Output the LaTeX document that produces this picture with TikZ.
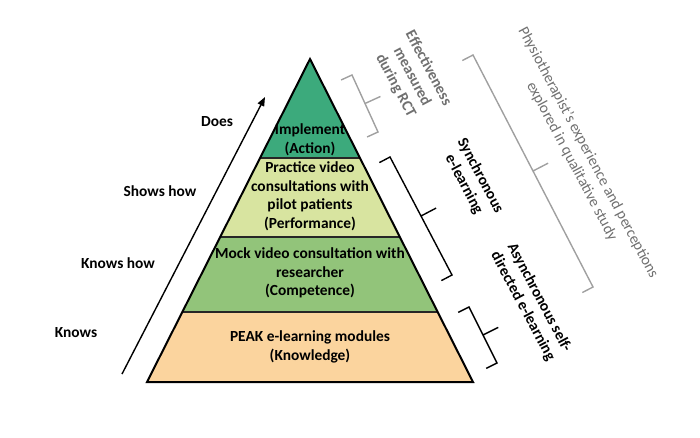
\documentclass[tikz,border=0pt]{standalone}
\usepackage{fontspec}
\setmainfont{Carlito}
\usetikzlibrary{calc,arrows.meta}
\definecolor{actgreen}{HTML}{3CAA7C}
\definecolor{perfgreen}{HTML}{D8E4A0}
\definecolor{compgreen}{HTML}{92C47A}
\definecolor{knowpeach}{HTML}{FBD49E}
\definecolor{notegray}{HTML}{707070}
\definecolor{bracegray}{HTML}{A0A0A0}
\begin{document}
\begin{tikzpicture}[x=1pt,y=-1pt,
  font=\fontsize{15.4}{18.5}\selectfont,
  layer/.style={draw=black!85,line width=1.2pt},
  layertext/.style={align=center,font=\fontsize{15.4}{18.5}\selectfont\bfseries},
  stage/.style={anchor=center,font=\fontsize{15.4}{18.5}\selectfont\bfseries},
  graybrace/.style={draw=bracegray,line width=1.4pt},
  blackbrace/.style={draw=black,line width=1.4pt},
  note/.style={align=center,rotate=-62,text=notegray},
  boldnote/.style={align=center,rotate=-62,font=\fontsize{15.4}{18.5}\selectfont\bfseries}]

\useasboundingbox (0,0) rectangle (700,437);

%corners of the pyramid
  \coordinate (apex) at (310,59);
  \coordinate (bl) at (147,382);
  \coordinate (br) at (473,382);
  \coordinate (l1) at (260,158);   \coordinate (r1) at (360,158);
  \coordinate (l2) at (220.2,237); \coordinate (r2) at (399.8,237);
  \coordinate (l3) at (182.3,312); \coordinate (r3) at (437.7,312);

%fill the layers
  \fill[actgreen] (apex) -- (r1) -- (l1) -- cycle;
  \fill[perfgreen] (l1) -- (r1) -- (r2) -- (l2) -- cycle;
  \fill[compgreen] (l2) -- (r2) -- (r3) -- (l3) -- cycle;
  \fill[knowpeach] (l3) -- (r3) -- (br) -- (bl) -- cycle;
  \foreach \i in {1,2,3}
    \draw[layer] (l\i) -- (r\i);
  \draw[line width=2pt,line join=miter] (apex) -- (br) -- (bl) -- cycle;

%layer texts
  \node[layertext] (act) at (310,140) {Implement\\(Action)};
  \node[layertext] (perf) at (310,196) {Practice video\\consultations with\\pilot patients\\(Performance)};
  \node[layertext] (comp) at (310,273) {Mock video consultation with\\researcher\\(Competence)};
  \node[layertext] (know) at (310,347) {PEAK e-learning modules\\(Knowledge)};

%stages of the arrow
  \coordinate (arrS) at (122,374);
  \coordinate (arrE) at (265,97);
  \draw[line width=1.4pt,-{Triangle[length=9pt,width=7pt]}] (arrS) -- (arrE);
  \foreach \name/\x/\y/\txt in {does/217/122/Does, shows/160/191/Shows how,
      knowshow/118/263/Knows how, knows/76/333/Knows}
    \node[stage] (\name) at (\x,\y) {\txt};

%braces
  \coordinate (rctA) at (352,75);    \coordinate (rctB) at (378,132);
  \coordinate (syncA) at (390,157);  \coordinate (syncB) at (452,275);
  \coordinate (asyncA) at (469,307); \coordinate (asyncB) at (497,363);
  \coordinate (qualA) at (473,55);   \coordinate (qualB) at (593,287);
  \foreach \a/\b/\kind in {rctA/rctB/graybrace, syncA/syncB/blackbrace,
      asyncA/asyncB/blackbrace, qualA/qualB/graybrace}
    \path[\kind] ($(\a)!12pt!-90:(\b)$) -- (\a) -- (\b) -- ($(\b)!12pt!90:(\a)$)
      ($(\a)!0.5!(\b)$) -- ($(\a)!0.5!(\b)!17pt!90:(\b)$);

%notes next to the braces
  \node[note,font=\fontsize{15.4}{18.5}\selectfont\bfseries] (rct) at (412,77) {Effectiveness\\measured\\during RCT};
  \node[boldnote] (sync) at (472,180) {Synchronous\\e-learning};
  \node[boldnote] (async) at (531,302) {Asynchronous self-\\directed e-learning};
  \node[note] (qual) at (580,157) {Physiotherapist’s experience and perceptions\\explored in qualitative study};

\end{tikzpicture}
\end{document}
